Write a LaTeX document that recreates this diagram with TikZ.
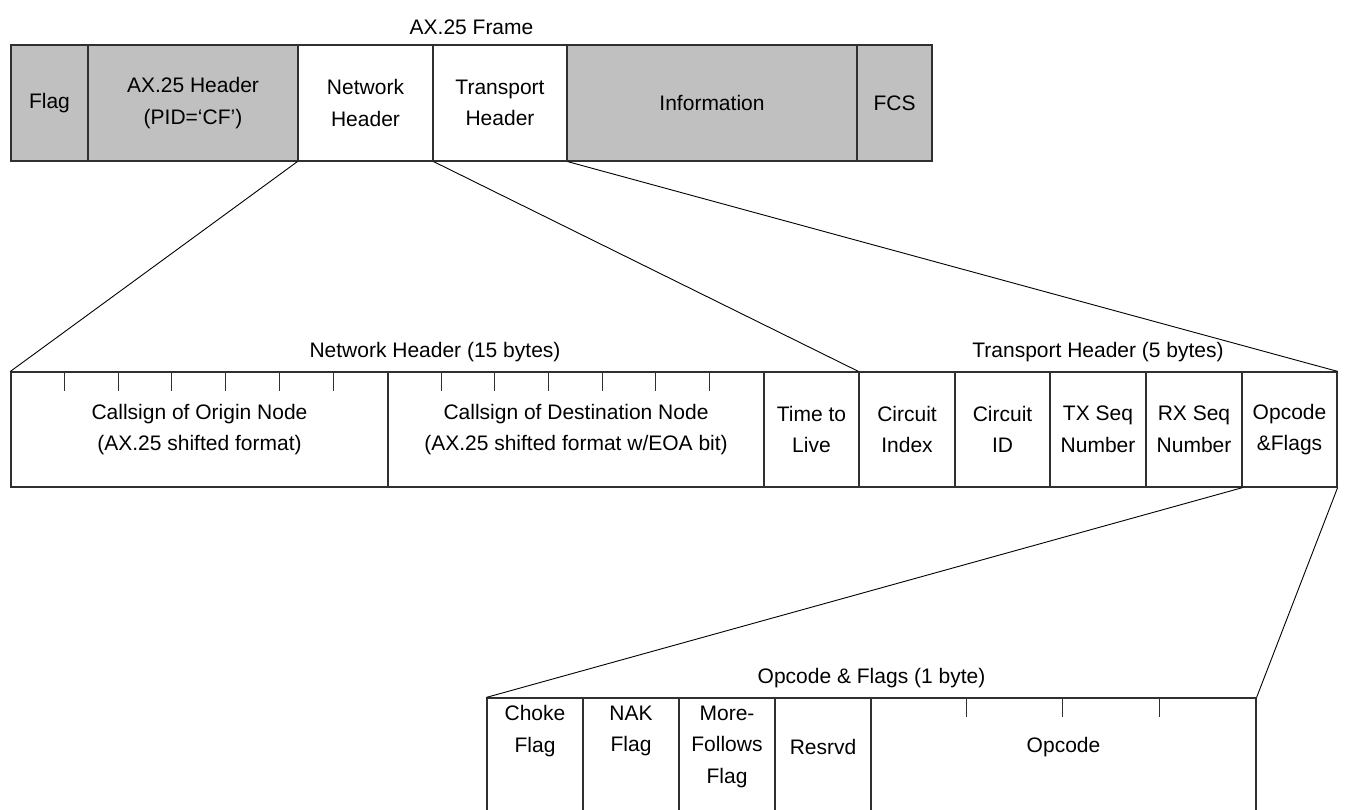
\documentclass[tikz,border=0pt]{standalone}
\usepackage{fontspec}
\setmainfont{Liberation Sans}
\definecolor{cellgray}{HTML}{C0C0C0}
\definecolor{edgecol}{HTML}{303030}
\begin{document}
\begin{tikzpicture}[x=1pt,y=-1pt,
  every node/.style={font=\fontsize{21}{31.5}\selectfont, text=black},
  cell/.style={draw=edgecol, line width=1.2pt, inner sep=0pt, align=center, anchor=center},
  shaded/.style={cell, fill=cellgray},
  link/.style={draw=black, line width=0.9pt},
  tick/.style={draw=edgecol, line width=1pt},
  title/.style={inner sep=0pt, anchor=center},
  lbl/.style={inner sep=0pt, align=center, anchor=center}]
\useasboundingbox (0,0) rectangle (1346,810);
\clip (0,0) rectangle (1346,810);

% ---------- AX.25 frame ----------
\node[title] (t1) at (471.5,27) {AX.25 Frame};
\node[shaded, minimum width=77pt,  minimum height=116pt] (flag) at (49.5,103) {Flag};
\node[shaded, minimum width=210pt, minimum height=116pt] (axh)  at (193,103) {AX.25 Header\\(PID=‘CF’)};
\node[cell,   minimum width=135pt, minimum height=116pt] (nh)   at (365.5,103) {Network\\Header};
\node[cell,   minimum width=134pt, minimum height=116pt] (th)   at (500,103) {Transport\\Header};
\node[shaded, minimum width=290pt, minimum height=116pt] (info) at (712,103) {Information};
\node[shaded, minimum width=75pt,  minimum height=116pt] (fcs)  at (894.5,103) {FCS};

% ---------- Network / Transport headers ----------
\node[title] (t2) at (435,352) {Network Header (15 bytes)};
\node[title] (t3) at (1098,352) {Transport Header (5 bytes)};
\node[cell, minimum width=377pt, minimum height=115pt] (orig) at (199.5,429.5) {Callsign of Origin Node\\(AX.25 shifted format)};
\node[cell, minimum width=376pt, minimum height=115pt] (dest) at (576,429.5) {Callsign of Destination Node\\(AX.25 shifted format w/EOA bit)};
\node[cell, minimum width=95pt, minimum height=115pt] (ttl)  at (811.5,429.5) {Time to\\Live};
\node[cell, minimum width=96pt, minimum height=115pt] (cidx) at (907,429.5) {Circuit\\Index};
\node[cell, minimum width=95pt, minimum height=115pt] (cid)  at (1002.5,429.5) {Circuit\\ID};
\node[cell, minimum width=96pt, minimum height=115pt] (txs)  at (1098,429.5) {TX Seq\\Number};
\node[cell, minimum width=96pt, minimum height=115pt] (rxs)  at (1194,429.5) {RX Seq\\Number};
\node[cell, minimum width=95pt, minimum height=115pt] (opf)  at (1289.5,429.5) {Opcode\\\&Flags};

\foreach \k in {1,...,6} {
  \draw[tick] ([xshift=\k*53.8pt]orig.north west) -- ++(0,20);
  \draw[tick] ([xshift=\k*53.7pt]dest.north west) -- ++(0,20);
}

% ---------- Opcode & Flags ----------
\node[title] (t4) at (871.5,678) {Opcode \& Flags (1 byte)};
\node[cell, minimum width=96pt,  minimum height=120pt] (choke) at (535,758) {};
\node[cell, minimum width=96pt,  minimum height=120pt] (nak)   at (631,758) {};
\node[cell, minimum width=96pt,  minimum height=120pt] (more)  at (727,758) {};
\node[cell, minimum width=96pt,  minimum height=120pt] (resv)  at (823,758) {};
\node[cell, minimum width=385pt, minimum height=120pt] (opc)   at (1063.5,758) {};
\node[lbl] (chokeT) at (535,731) {Choke\\Flag};
\node[lbl] (nakT)   at (631,731) {NAK\\Flag};
\node[lbl] (moreT)  at (727,746.5) {More-\\Follows\\Flag};
\node[lbl] (resvT)  at (823,747) {Resrvd};
\node[lbl] (opcT)   at (1063.5,747) {Opcode};
\foreach \k in {1,2,3} {
  \draw[tick] ([xshift=\k*96.25pt]opc.north west) -- ++(0,20);
}

% ---------- expansion lines ----------
\draw[link] (nh.south west) -- (orig.north west);
\draw[link] (nh.south east) -- (cidx.north west);
\draw[link] (th.south east) -- (opf.north east);
\draw[link] (rxs.south east) -- (choke.north west);
\draw[link] (opf.south east) -- (opc.north east);
\end{tikzpicture}
\end{document}
